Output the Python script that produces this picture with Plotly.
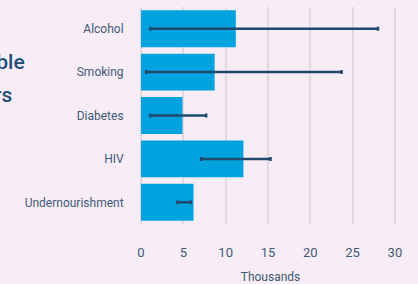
import plotly.graph_objects as go

categories = ["Alcohol", "Smoking", "Diabetes", "HIV", "Undernourishment"]
values = [11.2, 8.7, 4.9, 12.1, 6.2]
err_low = [1.1, 0.6, 1.1, 7.1, 4.3]
err_high = [28.0, 23.7, 7.7, 15.3, 5.9]
x_ticks = [0, 5, 10, 15, 20, 25, 30]

FONT = "Roboto, Inter, sans-serif"
TEXT_COL = "#3f5b78"
BG = "#f8ecf6"

fig = go.Figure()
fig.add_trace(go.Bar(
    y=categories,
    x=values,
    orientation="h",
    marker=dict(color="#00a3dd", line=dict(width=0)),
    width=0.85,
    error_x=dict(
        type="data",
        symmetric=False,
        array=[h - v for h, v in zip(err_high, values)],
        arrayminus=[v - l for v, l in zip(values, err_low)],
        color="#1f4a6b",
        thickness=2.5,
        width=2,
    ),
    showlegend=False,
    hoverinfo="skip",
))

fig.update_layout(
    width=418,
    height=284,
    margin=dict(l=141, r=18, t=7, b=60, autoexpand=False),
    paper_bgcolor=BG,
    plot_bgcolor=BG,
    font=dict(family=FONT, color=TEXT_COL, size=12),
    bargap=0.15,
)
fig.update_xaxes(
    range=[0, 30.6],
    automargin=False,
    tickvals=x_ticks,
    ticktext=[str(t) for t in x_ticks],
    showgrid=True,
    gridcolor="#e3d7e0",
    gridwidth=2,
    zeroline=True,
    zerolinecolor="#e3d7e0",
    zerolinewidth=2,
    showline=False,
    ticks="outside",
    ticklen=16,
    tickcolor="rgba(0,0,0,0)",
    tickfont=dict(size=13, color=TEXT_COL),
    title=dict(text="Thousands", font=dict(size=12, color=TEXT_COL), standoff=18),
)
fig.update_yaxes(
    categoryorder="array",
    categoryarray=categories,
    autorange="reversed",
    automargin=False,
    showgrid=False,
    showline=False,
    ticks="outside",
    ticklen=14,
    tickcolor="rgba(0,0,0,0)",
    tickfont=dict(size=12, color=TEXT_COL),
)

fig.add_annotation(text="Preventable", xref="paper", yref="paper",
                   x=-141/259 + 27/259, y=(224 - 62)/217, xanchor="right", yanchor="middle",
                   showarrow=False, font=dict(size=21, color="#1e4f78", family=FONT, weight=500))
fig.add_annotation(text="risk factors", xref="paper", yref="paper",
                   x=-141/259 + 14/259, y=(224 - 95)/217, xanchor="right", yanchor="middle",
                   showarrow=False, font=dict(size=21, color="#1e4f78", family=FONT, weight=500))

fig.write_html(
    "out.html",
    config={"displayModeBar": False},
    post_script="document.body.style.margin='0';document.body.style.padding='0';"
                "document.body.style.background='#f8ecf6';",
)
